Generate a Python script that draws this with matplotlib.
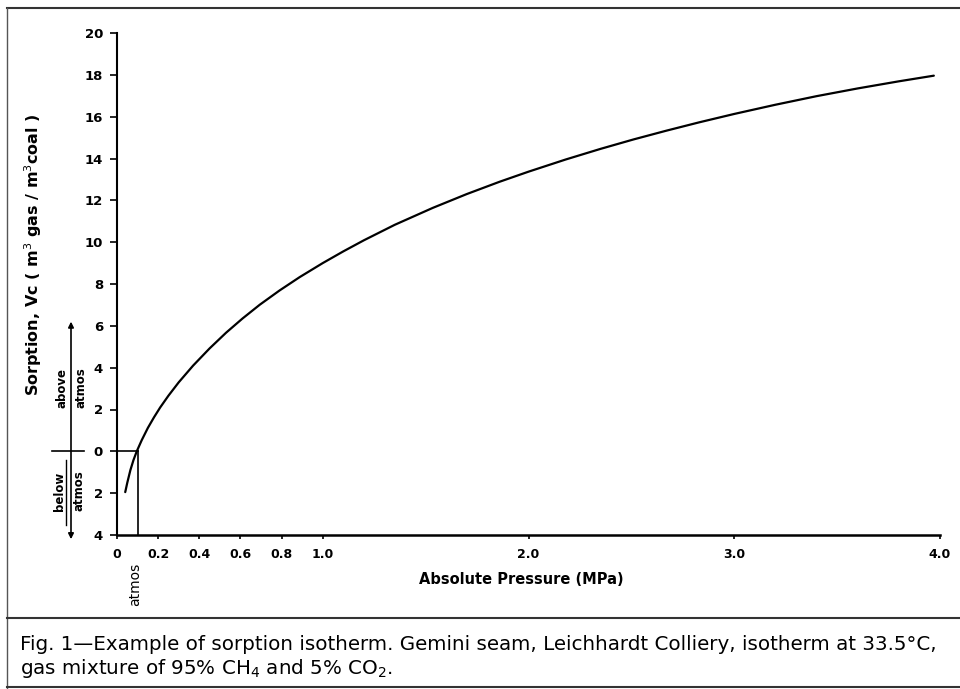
import matplotlib
matplotlib.use('Agg')
import matplotlib.pyplot as plt
import matplotlib.transforms as mtransforms
from matplotlib.lines import Line2D

# Datos (presión absoluta en MPa, sorción en m3/m3)
presion = [0.040, 0.050, 0.065, 0.080, 0.096, 0.120, 0.150, 0.180, 0.210,
           0.250, 0.300, 0.370, 0.450, 0.530, 0.610, 0.694, 0.790, 0.888,
           1.000, 1.100, 1.200, 1.350, 1.535, 1.700, 1.860, 2.000, 2.180,
           2.350, 2.510, 2.670, 2.830, 3.000, 3.200, 3.400, 3.600, 3.800, 3.970]
sorcion = [-1.95, -1.50, -0.90, -0.42, 0.00, 0.53, 1.12, 1.63, 2.10,
           2.66, 3.30, 4.10, 4.92, 5.67, 6.35, 7.01, 7.69, 8.33,
           9.00, 9.56, 10.09, 10.83, 11.64, 12.30, 12.89, 13.37, 13.95,
           14.46, 14.91, 15.33, 15.73, 16.13, 16.57, 16.98, 17.35, 17.69, 17.96]

x_ticks = [0, 0.2, 0.4, 0.6, 0.8, 1.0, 2.0, 3.0, 4.0]
x_labels = ['0', '0.2', '0.4', '0.6', '0.8', '1.0', '2.0', '3.0', '4.0']
y_ticks = [-4, -2, 0, 2, 4, 6, 8, 10, 12, 14, 16, 18, 20]
y_labels = ['4', '2', '0', '2', '4', '6', '8', '10', '12', '14', '16', '18', '20']
p_atmos = 0.1

caption_1 = ("Fig. 1\u2014Example of sorption isotherm. Gemini seam, Leichhardt Colliery, "
             "isotherm at 33.5\u00b0C,")
caption_2 = "gas mixture of 95% CH$_4$ and 5% CO$_2$."

plt.rcParams['font.family'] = ['DejaVu Sans']

W, H = 960, 689
fig = plt.figure(figsize=(W / 100, H / 100), dpi=100)
ax = fig.add_axes([117 / W, 1 - 535 / H, (940 - 117) / W, (535 - 33) / H])

# curva de la isoterma
ax.plot(presion, sorcion, color='black', lw=1.6, solid_capstyle='round',
        solid_joinstyle='round')

# líneas de la presión atmosférica
ax.plot([p_atmos, p_atmos], [-4, 0], color='black', lw=1.2)
ax.plot([0, p_atmos], [0, 0], color='black', lw=1.2)

ax.set_xlim(0, 4.0)
ax.set_ylim(-4, 20)
ax.set_xticks(x_ticks)
ax.set_xticklabels(x_labels, fontsize=9, fontweight='bold')
ax.set_yticks(y_ticks)
ax.set_yticklabels(y_labels, fontsize=9.5, fontweight='bold')
ax.tick_params(axis='y', direction='out', length=5, width=1.2, pad=5)
ax.tick_params(axis='x', direction='out', length=3, width=1.2, pad=6)

for s in ['top', 'right']:
    ax.spines[s].set_visible(False)
ax.spines['left'].set_linewidth(1.5)
ax.spines['bottom'].set_linewidth(1.8)

fig.text(521 / W, 1 - 580 / H, 'Absolute Pressure (MPa)', ha='center', va='center',
         fontsize=10.5, fontweight='bold')

# etiqueta del eje y, fuera del axes
fig.text(33 / W, 1 - 255 / H, 'Sorption, Vc ( m$^3$ gas / m$^3$coal )',
         rotation=90, ha='center', va='center', fontsize=11.5, fontweight='bold')

# anotaciones a la izquierda: above / below atmos
tr = mtransforms.blended_transform_factory(fig.transFigure, ax.transData)
x_flecha = 71 / W
ax.annotate('', xy=(x_flecha, 6.2), xytext=(x_flecha, -4.2),
            xycoords=tr, textcoords=tr,
            arrowprops=dict(arrowstyle='<|-|>', lw=1.2, color='black',
                            mutation_scale=8, shrinkA=0, shrinkB=0))
fig.add_artist(Line2D([52 / W, 84 / W], [0, 0], transform=tr, color='black', lw=1.2))
kw = dict(transform=tr, rotation=90, ha='center', va='center', fontsize=8.5,
          fontweight='bold')
fig.text(62 / W, 3.05, 'above', **kw)
fig.text(81 / W, 3.05, 'atmos', **kw)
fig.text(59 / W, -1.9, 'below', **kw)
fig.text(79 / W, -1.9, 'atmos', **kw)
fig.add_artist(Line2D([66 / W, 66 / W], [-3.5, -0.4], transform=tr, color='black', lw=1))

# etiqueta 'atmos' bajo el eje x
tr2 = mtransforms.blended_transform_factory(ax.transData, fig.transFigure)
fig.text(p_atmos - 0.01, 1 - 584 / H, 'atmos', transform=tr2, rotation=90,
         ha='center', va='center', fontsize=10)

# marco y pie de figura
marco = dict(color='#333333', lw=1.5)
fig.add_artist(Line2D([7 / W, 1], [1 - 8 / H, 1 - 8 / H], **marco))
fig.add_artist(Line2D([7 / W, 7 / W], [0, 1 - 8 / H], color='#555555', lw=1))
fig.add_artist(Line2D([7 / W, 1], [1 - 618 / H, 1 - 618 / H], **marco))
fig.add_artist(Line2D([7 / W, 1], [1 - 687 / H, 1 - 687 / H], **marco))
fig.text(20 / W, 1 - 644 / H, caption_1, ha='left', va='center', fontsize=14.3)
fig.text(20 / W, 1 - 668 / H, caption_2, ha='left', va='center', fontsize=14.3)

fig.savefig('out.png', dpi=100)
